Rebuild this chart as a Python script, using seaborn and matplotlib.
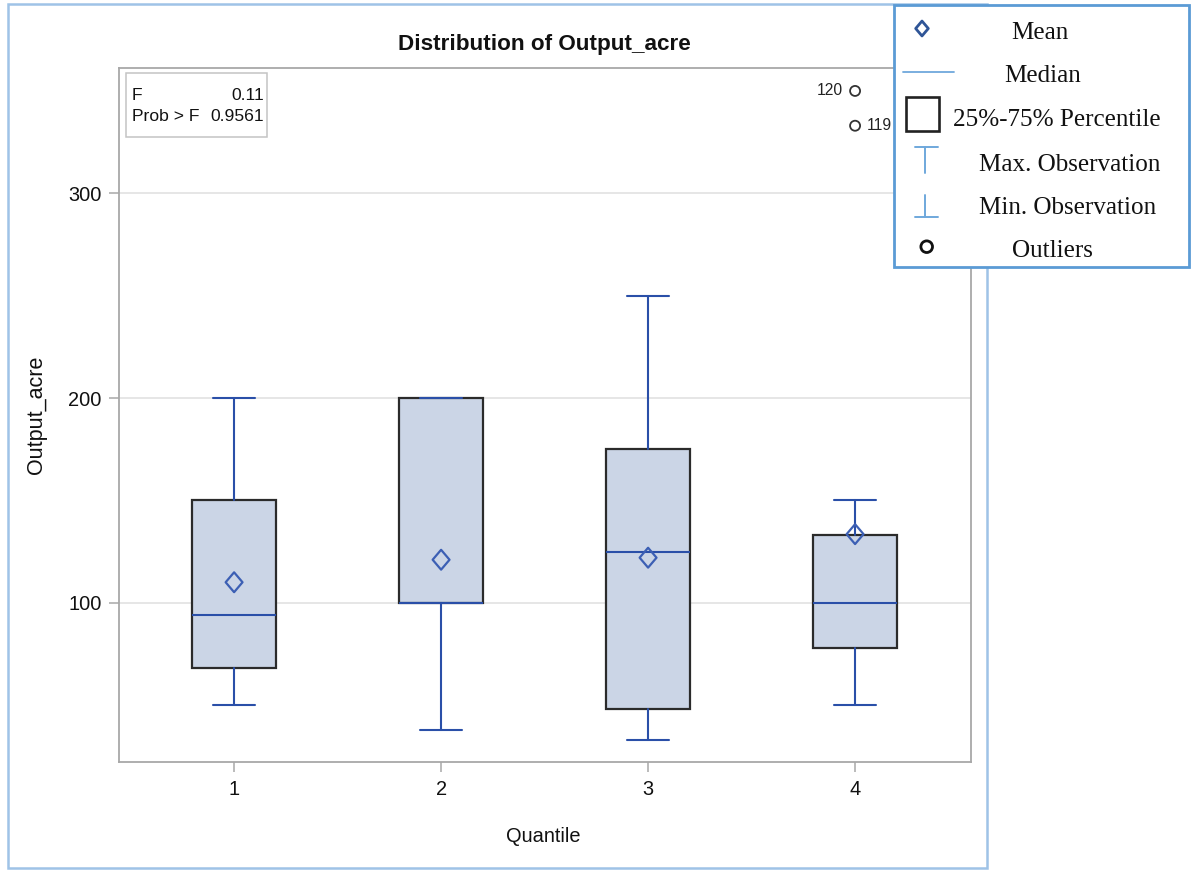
import matplotlib
matplotlib.use("Agg")
import matplotlib.pyplot as plt
from matplotlib import font_manager
from matplotlib.patches import Rectangle
from matplotlib.path import Path
import seaborn as sns

# ---- data -------------------------------------------------------------
quantiles = ["1", "2", "3", "4"]
whisker_low = [50, 38, 33, 50]
q1 = [68, 100, 48, 78]
medians = [94, 100, 125, 100]
q3 = [150, 200, 175, 133]
whisker_high = [200, 200, 250, 150]
means = [110, 121, 122, 133.5]
outlier_quantile = ["4", "4"]
outlier_values = [350, 333]
outlier_ids = ["120", "119"]
f_value = "0.11"
prob_f = "0.9561"
y_ticks = [100, 200, 300]
legend_labels = ["Mean", "Median", "25%-75% Percentile",
                 "Max. Observation", "Min. Observation", "Outliers"]

# ---- style ------------------------------------------------------------
sns.set_theme(style="white")
plt.rcParams["font.family"] = ["Liberation Sans", "DejaVu Sans"]

installed = {f.name for f in font_manager.fontManager.ttflist}
if "Liberation Sans Narrow" in installed:
    NARROW = ["Liberation Sans Narrow", "Liberation Sans"]
    nscale = 1.0
else:
    NARROW = ["Liberation Sans", "DejaVu Sans"]
    nscale = 0.9
SERIF = ["Liberation Serif", "DejaVu Serif"]

BOX_FILL = "#cbd5e6"
BOX_EDGE = "#2b2b2b"
LINE_BLUE = "#2a4fa8"
MEAN_BLUE = "#3c5fb4"
AXIS_GRAY = "#a8a8a8"
GRID_GRAY = "#e4e4e4"
FRAME_BLUE = "#9fc3e7"
LEGEND_BLUE = "#5b9bd5"
LEGEND_SYM = "#6fa8dc"

W, H = 1193, 877
fig = plt.figure(figsize=(W / 100, H / 100), dpi=100)
fig.patch.set_facecolor("white")

# ---- main box plot ----------------------------------------------------
ax = fig.add_axes([119 / W, 1 - 762 / H, (971 - 119) / W, (762 - 68) / H])
ax.set_facecolor("white")
pos = list(range(1, len(quantiles) + 1))

stats = [
    dict(med=m, q1=a, q3=b, whislo=lo, whishi=hi, fliers=[], label=lab)
    for lab, lo, a, m, b, hi in zip(quantiles, whisker_low, q1, medians, q3, whisker_high)
]
ax.bxp(
    stats, positions=pos, widths=0.405, capwidths=0.2, patch_artist=True,
    showfliers=False, manage_ticks=False,
    boxprops=dict(facecolor=BOX_FILL, edgecolor=BOX_EDGE, linewidth=1.6, zorder=2),
    whiskerprops=dict(color=LINE_BLUE, linewidth=1.5, zorder=3),
    capprops=dict(color=LINE_BLUE, linewidth=1.5, zorder=3),
    medianprops=dict(color=LINE_BLUE, linewidth=1.5, zorder=3),
)

# mean markers: open diamonds
diamond = Path([(0, 1), (0.85, 0), (0, -1), (-0.85, 0), (0, 1)],
               [Path.MOVETO, Path.LINETO, Path.LINETO, Path.LINETO, Path.CLOSEPOLY])
sns.scatterplot(x=pos, y=means, marker=diamond, s=205, ax=ax, zorder=4, legend=False)
mean_coll = ax.collections[-1]
mean_coll.set_facecolor("none")
mean_coll.set_edgecolor(MEAN_BLUE)
mean_coll.set_linewidth(1.6)

# outliers with observation ids
out_x = [quantiles.index(q) + 1 for q in outlier_quantile]
sns.scatterplot(x=out_x, y=outlier_values, marker="o", s=52, ax=ax, zorder=4, legend=False)
out_coll = ax.collections[-1]
out_coll.set_facecolor("none")
out_coll.set_edgecolor("#333333")
out_coll.set_linewidth(1.3)
for i, (xv, yv, lab) in enumerate(zip(out_x, outlier_values, outlier_ids)):
    left = i % 2 == 0
    ax.annotate(lab, (xv, yv), xytext=(-8.5 if left else 8.5, 0), textcoords="offset points",
                ha="right" if left else "left", va="center",
                fontsize=12.5 * nscale, family=NARROW, color="#222222")

ax.set_xlim(0.444, 4.56)
ax.set_ylim(22.2, 361.2)
ax.set_xticks(pos)
ax.set_xticklabels(quantiles)
ax.set_yticks(y_ticks)
ax.set_yticklabels([str(v) for v in y_ticks])
ax.tick_params(axis="both", direction="out", length=7.5, width=1.1, color=AXIS_GRAY,
               labelsize=16 * nscale, labelcolor="#111111", left=True, bottom=True)
ax.tick_params(axis="x", pad=5.5)
ax.tick_params(axis="y", pad=5)
for lab in ax.get_xticklabels() + ax.get_yticklabels():
    lab.set_family(NARROW)
ax.grid(axis="y", color=GRID_GRAY, linewidth=1.3)
ax.grid(axis="x", visible=False)
ax.set_axisbelow(True)
for sp in ax.spines.values():
    sp.set_color(AXIS_GRAY)
    sp.set_linewidth(1.3)
ax.set_xlabel("")
ax.set_ylabel("")

# ---- overlay in pixel coordinates: titles, frame, stats box, legend ---
deco = fig.add_axes([0, 0, 1, 1], zorder=10)
deco.set_xlim(0, W)
deco.set_ylim(H, 0)
deco.axis("off")
deco.patch.set_alpha(0)

deco.text(544, 50, "Distribution of Output_acre", ha="center", va="baseline",
          fontsize=16.2, fontweight="bold", color="#111111")
deco.text(543.5, 842, "Quantile", ha="center", va="baseline",
          fontsize=16 * nscale, family=NARROW, color="#111111")
deco.text(36, 415, "Output_acre", ha="center", va="center", rotation=90,
          fontsize=15.5, color="#111111")

# outer frame
deco.add_patch(Rectangle((8, 4), 979, 864, fill=False, edgecolor=FRAME_BLUE, linewidth=1.8))

# F statistic inset
deco.add_patch(Rectangle((126, 73.3), 140.7, 63.4, facecolor="white",
                         edgecolor="#c4c4c4", linewidth=1.1))
deco.text(132, 100, "F", ha="left", va="baseline", fontsize=14 * nscale, family=NARROW, color="#111111")
deco.text(264, 100, f_value, ha="right", va="baseline", fontsize=14 * nscale, family=NARROW, color="#111111")
deco.text(132, 121, "Prob > F", ha="left", va="baseline", fontsize=14 * nscale, family=NARROW, color="#111111")
deco.text(264, 121, prob_f, ha="right", va="baseline", fontsize=14 * nscale, family=NARROW, color="#111111")

# legend panel
deco.add_patch(Rectangle((894, 5), 295, 262, facecolor="white",
                         edgecolor=LEGEND_BLUE, linewidth=2.0, zorder=5))
# mean symbol
deco.scatter([922], [28.5], marker=diamond, s=115, facecolor="none",
             edgecolor="#2f5597", linewidth=2.0, zorder=6)
# median symbol
deco.plot([903, 954], [72.3, 72.3], color=LEGEND_SYM, linewidth=1.3, zorder=6)
# percentile box
deco.add_patch(Rectangle((906, 97), 33, 34, fill=False, edgecolor="#222222",
                         linewidth=1.9, zorder=6))
# max observation
deco.plot([915, 938], [147, 147], color=LEGEND_SYM, linewidth=1.4, zorder=6)
deco.plot([925, 925], [147, 172.5], color=LEGEND_SYM, linewidth=1.4, zorder=6)
# min observation
deco.plot([925, 925], [195, 216.5], color=LEGEND_SYM, linewidth=1.4, zorder=6)
deco.plot([915, 938], [216.5, 216.5], color=LEGEND_SYM, linewidth=1.4, zorder=6)
# outlier symbol
deco.scatter([926.7], [246.7], marker="o", s=70, facecolor="none",
             edgecolor="#111111", linewidth=2.0, zorder=6)

legend_left = [1011.7, 1004.3, 953.3, 979.3, 979.3, 1011.7]
legend_base = [39, 81.7, 126, 170.7, 214, 256.7]
for lab, lx, ly in zip(legend_labels, legend_left, legend_base):
    deco.text(lx, ly, lab, ha="left", va="baseline", fontsize=18.1,
              family=SERIF, color="#111111", zorder=6)

fig.savefig("out.png", dpi=100, facecolor="white")
